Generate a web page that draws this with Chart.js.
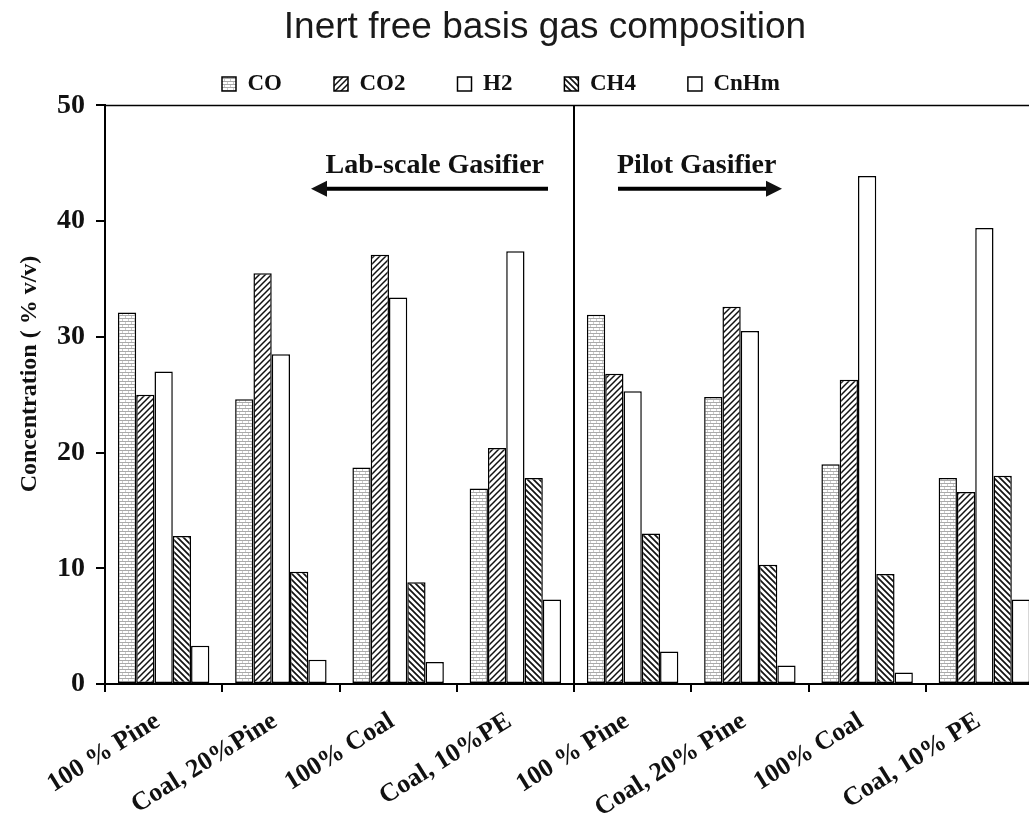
<!DOCTYPE html>
<html>
<head>
<meta charset="utf-8">
<script src="https://cdn.jsdelivr.net/npm/chart.js@4.4.1/dist/chart.umd.min.js"></script>
<style>
  html, body { margin: 0; padding: 0; background: #fff; overflow: hidden; }
  #wrap { position: absolute; left: 0; top: 0; width: 1090px; height: 826px; }
</style>
</head>
<body>
<div id="wrap"><canvas id="grafico" width="1090" height="826"></canvas></div>
<script>
// categorias e valores
const categorias = ['100 % Pine', 'Coal, 20%Pine', '100% Coal', 'Coal, 10%PE',
                    '100 % Pine', 'Coal, 20% Pine', '100% Coal', 'Coal, 10% PE'];
const co   = [32.1, 24.6, 18.7, 16.9, 31.9, 24.8, 19.0, 17.8];
const co2  = [25.0, 35.5, 37.1, 20.4, 26.8, 32.6, 26.3, 16.6];
const h2   = [27.0, 28.5, 33.4, 37.4, 25.3, 30.5, 43.9, 39.4];
const ch4  = [12.8,  9.7,  8.8, 17.8, 13.0, 10.3,  9.5, 18.0];
const cnhm = [ 3.3,  2.1,  1.9,  7.3,  2.8,  1.6,  1.0,  7.3];
const y_ticks = [0, 10, 20, 30, 40, 50];

const SERIF = '"Liberation Serif", "Times New Roman", serif';

// padrões de preenchimento (hachuras)
function padrao(tipo) {
  const c = document.createElement('canvas');
  c.width = 6; c.height = 6;
  const g = c.getContext('2d');
  g.fillStyle = '#fff';
  g.fillRect(0, 0, 6, 6);
  if (tipo === 'tijolo') {
    g.fillStyle = '#aaa';
    g.fillRect(0, 0, 6, 1);
    g.fillRect(0, 3, 6, 1);
    g.fillStyle = '#ccc';
    g.fillRect(2, 1, 1, 2);
    g.fillRect(5, 4, 1, 2);
  } else if (tipo === 'barra') {
    g.strokeStyle = '#111';
    g.lineWidth = 1.5;
    g.beginPath();
    g.moveTo(0, 6); g.lineTo(6, 0);
    g.moveTo(-3, 3); g.lineTo(3, -3);
    g.moveTo(3, 9); g.lineTo(9, 3);
    g.stroke();
  } else if (tipo === 'contrabarra') {
    g.strokeStyle = '#111';
    g.lineWidth = 1.7;
    g.beginPath();
    g.moveTo(0, 0); g.lineTo(6, 6);
    g.moveTo(-3, 3); g.lineTo(3, 9);
    g.moveTo(3, -3); g.lineTo(9, 3);
    g.stroke();
  }
  return g.createPattern(c, 'repeat');
}

function serie(label, dados, fundo) {
  return {
    label: label,
    data: dados,
    backgroundColor: fundo,
    borderColor: '#000',
    borderWidth: 1.5,
    borderSkipped: false,
    barPercentage: 1.0,
    categoryPercentage: 0.78
  };
}

// empurra a legenda para a posição do original
const ajusteLegenda = {
  id: 'ajusteLegenda',
  afterLayout(chart) {
    chart.legend.left += 170;
    chart.legend.right += 170;
  }
};

// linha do topo, divisória, título do eixo y e anotações com setas
const anotacoes = {
  id: 'anotacoes',
  afterDatasetsDraw(chart) {
    const ctx = chart.ctx;
    const area = chart.chartArea;
    const x = chart.scales.x;
    const y = chart.scales.y;
    const meio = (x.getPixelForValue(3) + x.getPixelForValue(4)) / 2;
    ctx.save();
    ctx.strokeStyle = '#000';
    ctx.lineWidth = 1.5;
    ctx.beginPath();
    ctx.moveTo(area.left, area.top);
    ctx.lineTo(area.right, area.top);
    ctx.stroke();
    ctx.lineWidth = 2;
    ctx.beginPath();
    ctx.moveTo(meio, area.top);
    ctx.lineTo(meio, area.bottom);
    ctx.stroke();

    ctx.fillStyle = '#111';
    ctx.font = 'bold 28px ' + SERIF;
    ctx.textBaseline = 'alphabetic';
    const yTexto = y.getPixelForValue(44.2);
    const ySeta = y.getPixelForValue(42.8);
    ctx.textAlign = 'right';
    ctx.fillText('Lab-scale Gasifier', meio - 30, yTexto);
    ctx.textAlign = 'left';
    ctx.fillText('Pilot Gasifier', meio + 43, yTexto);

    function seta(x1, x2) {
      const dir = Math.sign(x2 - x1);
      ctx.lineWidth = 4;
      ctx.beginPath();
      ctx.moveTo(x1, ySeta);
      ctx.lineTo(x2 - dir * 12, ySeta);
      ctx.stroke();
      ctx.beginPath();
      ctx.moveTo(x2, ySeta);
      ctx.lineTo(x2 - dir * 16, ySeta - 8);
      ctx.lineTo(x2 - dir * 16, ySeta + 8);
      ctx.closePath();
      ctx.fill();
    }
    seta(meio - 26, meio - 263);
    seta(meio + 44, meio + 208);

    // título do eixo y
    ctx.translate(30, 374);
    ctx.rotate(-Math.PI / 2);
    ctx.textAlign = 'center';
    ctx.textBaseline = 'middle';
    ctx.font = 'bold 24px ' + SERIF;
    ctx.fillText('Concentration ( % v/v)', 0, 0);
    ctx.restore();
  }
};

new Chart(document.getElementById('grafico'), {
  type: 'bar',
  data: {
    labels: categorias,
    datasets: [
      serie('CO', co, padrao('tijolo')),
      serie('CO2', co2, padrao('barra')),
      serie('H2', h2, '#fff'),
      serie('CH4', ch4, padrao('contrabarra')),
      serie('CnHm', cnhm, '#fff')
    ]
  },
  options: {
    responsive: false,
    animation: false,
    layout: { padding: 0 },
    plugins: {
      title: {
        display: true,
        text: 'Inert free basis gas composition',
        color: '#1a1a1a',
        font: { family: '"Liberation Sans", Arial, sans-serif', size: 37, weight: 'normal' },
        padding: { top: 6, bottom: -30 }
      },
      legend: {
        position: 'top',
        align: 'start',
        labels: {
          color: '#111',
          font: { family: SERIF, size: 23, weight: 'bold' },
          boxWidth: 14,
          boxHeight: 14,
          padding: 52
        }
      },
      tooltip: { enabled: false }
    },
    scales: {
      x: {
        offset: true,
        grid: { offset: true, drawOnChartArea: false, drawTicks: true, tickLength: 8, color: '#000', lineWidth: 2 },
        border: { display: true, color: '#000', width: 2 },
        ticks: {
          color: '#111',
          font: { family: SERIF, size: 26, weight: 'bold' },
          minRotation: 32,
          maxRotation: 32,
          autoSkip: false,
          padding: 14,
          labelOffset: -6
        },
        afterFit(s) { s.height = 142; }
      },
      y: {
        min: 0,
        max: 50,
        afterBuildTicks(s) { s.ticks = y_ticks.map(v => ({ value: v })); },
        grid: { drawOnChartArea: false, drawTicks: true, tickLength: 9, color: '#000', lineWidth: 2 },
        border: { display: true, color: '#000', width: 2 },
        ticks: {
          color: '#111',
          font: { family: SERIF, size: 28, weight: 'bold' },
          padding: 11
        },
        afterFit(s) { s.width = 105; }
      },
      direita: {
        type: 'linear',
        position: 'right',
        display: true,
        grid: { display: false },
        border: { display: false },
        ticks: { display: false },
        afterFit(s) { s.width = 47; }
      }
    }
  },
  plugins: [ajusteLegenda, anotacoes]
});
</script>
</body>
</html>
